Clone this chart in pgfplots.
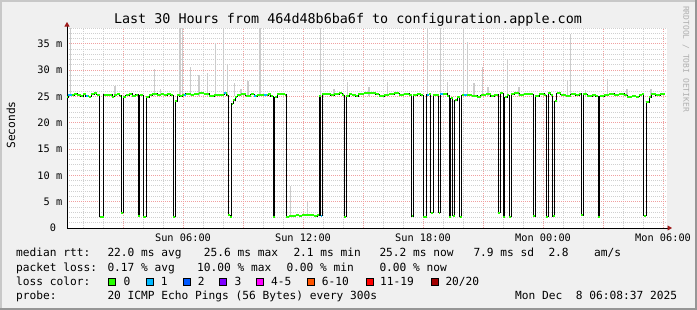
\documentclass[border=0pt]{standalone}
\usepackage{pgfplots}
\pgfplotsset{compat=1.18}
\usepackage{pgfplotstable}
\usepackage{fontspec}
\setmainfont{DejaVu Sans Mono}
\usetikzlibrary{arrows.meta}

\definecolor{bg}{HTML}{F0F0F0}
\definecolor{shadeA}{HTML}{C8C8C8}
\definecolor{shadeB}{HTML}{969696}
\definecolor{mgrid}{HTML}{F0A0A0}
\definecolor{mingrid}{HTML}{D0D0D0}
\definecolor{smoke}{HTML}{CCCCCC}
\definecolor{l0}{HTML}{26FF00}
\definecolor{l1}{HTML}{00B8FF}
\definecolor{l2}{HTML}{0059FF}
\definecolor{l3}{HTML}{7E00FF}
\definecolor{l4}{HTML}{FF00FF}
\definecolor{l6}{HTML}{FF5500}
\definecolor{l11}{HTML}{FF0000}
\definecolor{l20}{HTML}{A10000}
\definecolor{arrowc}{HTML}{9E1A1A}
\definecolor{wmark}{HTML}{B0B0B0}

% median rtt steps (hours since Sun 00:00, ms)
\pgfplotstableread{
x y
0.20 24.8
0.25 25.2
0.55 25.5
0.72 25.2
0.88 25.0
1.02 25.4
1.13 25.0
1.30 24.9
1.42 25.4
1.55 25.6
1.68 25.3
1.83 2.15
2.03 25.3
2.47 24.9
2.55 25.3
2.72 25.5
2.83 25.1
2.92 2.9
3.02 24.9
3.13 25.2
3.30 25.5
3.47 25.1
3.63 25.3
3.75 2.3
3.83 25.2
4.00 2.15
4.17 24.8
4.30 25.2
4.47 25.5
4.72 25.2
4.88 25.4
5.05 25.2
5.22 25.5
5.38 25.2
5.52 2.15
5.62 24.1
5.72 25.3
5.83 25.0
5.97 25.3
6.13 25.5
6.38 25.3
6.55 25.5
6.80 25.6
7.05 25.5
7.30 25.0
7.55 25.2
7.80 25.3
8.05 25.6
8.18 25.2
8.27 2.4
8.35 2.15
8.43 23.6
8.52 24.3
8.60 24.9
8.70 25.3
8.88 25.4
9.13 25.1
9.38 25.4
9.55 25.0
9.72 25.3
9.97 25.2
10.25 25.4
10.38 25.0
10.52 2.15
10.58 24.8
10.72 25.4
10.97 25.5
11.08 25.3
11.17 2.15
11.30 2.3
11.63 2.4
11.80 2.3
11.97 2.45
12.30 2.4
12.55 2.25
12.72 2.4
12.80 25.0
12.88 2.3
12.97 25.4
13.22 25.5
13.38 25.2
13.55 25.4
13.80 25.6
13.97 25.2
14.05 2.15
14.15 25.0
14.30 25.4
14.47 25.2
14.63 25.0
14.75 25.5
15.05 25.6
15.38 25.7
15.63 25.4
15.80 25.0
16.05 25.3
16.30 25.4
16.55 25.6
16.80 25.3
17.05 25.5
17.30 25.2
17.43 2.2
17.52 25.2
17.72 25.4
17.88 25.2
18.02 2.15
18.18 25.3
18.30 25.4
18.38 2.9
18.52 25.2
18.63 25.3
18.78 2.9
18.85 25.5
19.22 25.1
19.32 2.15
19.38 24.7
19.48 2.3
19.58 24.3
19.72 24.8
19.83 2.15
19.93 25.2
20.05 25.3
20.25 25.2
20.47 25.1
20.72 24.9
20.88 25.2
21.13 25.4
21.38 25.0
21.55 25.2
21.68 25.3
21.77 2.9
21.85 25.6
22.00 2.15
22.08 24.8
22.22 25.2
22.32 2.15
22.42 25.4
22.55 25.6
22.80 25.3
23.05 25.5
23.30 25.4
23.50 2.2
23.60 25.0
23.80 25.5
24.05 25.2
24.17 2.15
24.25 25.6
24.38 25.3
24.48 2.2
24.58 24.1
24.68 25.6
24.88 25.3
25.13 25.1
25.38 25.4
25.63 25.2
25.80 25.5
25.92 2.4
26.00 25.4
26.22 25.0
26.47 25.2
26.63 25.0
26.75 2.15
26.83 25.0
27.05 25.3
27.30 25.5
27.55 25.3
27.80 25.5
28.05 25.2
28.22 24.9
28.47 25.1
28.63 24.9
28.80 25.3
28.97 25.5
29.03 2.3
29.17 23.9
29.30 24.8
29.42 25.5
29.63 25.2
29.85 25.5
30.08 25.5
}\med
\pgfplotstablecreatecol[create col/expr={\nextrow{x}-\thisrow{x}}]{w}\med

% samples with 1 lost ping
\pgfplotstableread{
x y w
0.25 25.2 0.20
1.13 25.0 0.12
6.05 25.3 0.08
8.05 25.6 0.10
9.55 25.0 0.10
10.05 25.2 0.15
12.88 2.3 0.09
18.18 25.3 0.12
18.85 25.5 0.13
20.05 25.3 0.15
}\lossone

% smoke spikes
\pgfplotstableread{
x lo hi
0.38 25 38
2.60 25 26.9
4.57 25 30.2
4.88 25 26.4
5.86 25 38
5.98 25 38
6.38 25 30.6
6.80 25 29.0
7.23 25 29.4
7.63 25 35.2
8.03 25 38
8.23 25 31.2
8.58 25 27.6
8.90 25 26.5
9.24 25 27.9
9.85 25 38
11.38 2.3 7.9
12.22 2.3 4.9
12.88 25 38
13.55 25 26.4
14.22 25 27.7
15.30 25 26.8
16.22 25 27.7
18.22 25 38
18.88 25 38
19.22 25 27.7
20.02 25 38
20.22 25 35.4
20.56 25 27.6
20.98 25 30.6
21.25 25 26.7
22.22 25 32.1
22.80 25 26.8
25.22 25 28.0
25.38 25 36.8
26.13 25 26.3
27.22 25 28.3
28.20 25 26.4
29.40 25 26.4
}\smokedata

\begin{document}
\begin{tikzpicture}
\useasboundingbox (0,0) rectangle (697bp,310bp);
\fill[bg] (0,0) rectangle (697bp,310bp);
\fill[shadeA] (0,308bp) rectangle (697bp,310bp);
\fill[shadeA] (0,0) rectangle (2bp,310bp);
\fill[shadeB] (0,0) rectangle (697bp,2bp);
\fill[shadeB] (695bp,0) rectangle (697bp,310bp);

\begin{axis}[
  at={(67bp,82bp)}, anchor=south west,
  scale only axis, width=600bp, height=200bp,
  xmin=0.2, xmax=30.2, ymin=0, ymax=38,
  axis background/.style={fill=white},
  axis x line*=bottom, axis y line*=left,
  x axis line style={black, line width=0.8bp, shorten >=-5bp, -{Triangle[length=4.5bp,width=5bp,color=arrowc]}},
  y axis line style={black, line width=0.8bp, shorten >=-6bp, -{Triangle[length=4.5bp,width=5bp,color=arrowc]}},
  xtick={3,6,...,30},
  xticklabels={,Sun 06:00,,Sun 12:00,,Sun 18:00,,Mon 00:00,,Mon 06:00},
  minor xtick={1,2,...,30},
  ytick={0,5,...,35},
  yticklabels={0~~,5 m,10 m,15 m,20 m,25 m,30 m,35 m},
  minor ytick={1,2,...,38},
  major tick length=0pt, minor tick length=0pt,
  grid=both,
  major grid style={mgrid, dash pattern=on 1bp off 1bp, line width=0.8bp},
  minor grid style={mingrid, dash pattern=on 1bp off 1bp, line width=0.8bp},
  xticklabel style={font=\fontsize{10.3bp}{12bp}\selectfont, inner sep=0pt, anchor=north, yshift=-5.5bp},
  yticklabel style={font=\fontsize{10.3bp}{12bp}\selectfont, inner sep=0pt, anchor=east, xshift=-4.5bp},
]
% smoke: vertical bars from lo to hi
\addplot[smoke, line width=1.6bp, mark=none,
  quiver={u=0, v=\thisrow{hi}-\thisrow{lo}, every arrow/.append style={-}}]
  table[x=x, y=lo]{\smokedata};
% median line (black steps)
\addplot[black, line width=1bp, const plot, mark=none] table[x=x, y=y]{\med};
% loss colour 0: horizontal green pieces
\addplot[l0, line width=2bp, mark=none, x filter/.expression={x>30.07 ? nan : x},
  quiver={u=\thisrow{w}, v=0, every arrow/.append style={-}}]
  table[x=x, y=y]{\med};
% loss colour 1
\addplot[l1, line width=2bp, mark=none,
  quiver={u=\thisrow{w}, v=0, every arrow/.append style={-}}]
  table[x=x, y=y]{\lossone};
\end{axis}

\node[anchor=base, font=\fontsize{13.4bp}{16bp}\selectfont] at (348bp,286.5bp)
  {Last 30 Hours from 464d48b6ba6f to configuration.apple.com};
\node[rotate=90, font=\fontsize{11.2bp}{13bp}\selectfont] at (11bp,185bp) {Seconds};
\node[rotate=-90, font=\fontsize{8bp}{9bp}\selectfont, text=wmark] at (686bp,251bp) {RRDTOOL / TOBI OETIKER};

\begin{scope}[every node/.style={anchor=base west, inner sep=0pt, font=\fontsize{11.2bp}{13bp}\selectfont}]
\node at (16bp,53bp) {median rtt:};
\node at (107.3bp,53bp) {22.0 ms avg};
\node at (203.7bp,53bp) {25.6 ms max};
\node at (293.3bp,53bp) {2.1 ms min};
\node at (379.3bp,53bp) {25.2 ms now};
\node at (473.3bp,53bp) {7.9 ms sd};
\node at (548.3bp,53bp) {2.8};
\node at (594bp,53bp) {am/s};

\node at (16bp,38.8bp) {packet loss:};
\node at (107.3bp,38.8bp) {0.17 \% avg};
\node at (197bp,38.8bp) {10.00 \% max};
\node at (286.3bp,38.8bp) {0.00 \% min};
\node at (379.3bp,38.8bp) {0.00 \% now};

\node at (16bp,24.6bp) {loss color:};
\node at (123.3bp,24.6bp) {0};
\node at (160.7bp,24.6bp) {1};
\node at (197.7bp,24.6bp) {2};
\node at (234.3bp,24.6bp) {3};
\node at (271bp,24.6bp) {4-5};
\node at (321.7bp,24.6bp) {6-10};
\node at (380bp,24.6bp) {11-19};
\node at (445.3bp,24.6bp) {20/20};

\node at (16bp,10.4bp) {probe:};
\node at (107.3bp,10.4bp) {20 ICMP Echo Pings (56 Bytes) every 300s};
\node at (515bp,10.4bp) {Mon Dec~~8 06:08:37 2025};
\end{scope}

\foreach \bx/\bc in {108.7/l0,146.1/l1,183.1/l2,219.7/l3,256.4/l4,307.1/l6,366.1/l11,431.1/l20}
  \draw[black, line width=0.8bp, fill=\bc] (\bx bp,24.4bp) rectangle ++(7bp,7bp);
\end{tikzpicture}
\end{document}
